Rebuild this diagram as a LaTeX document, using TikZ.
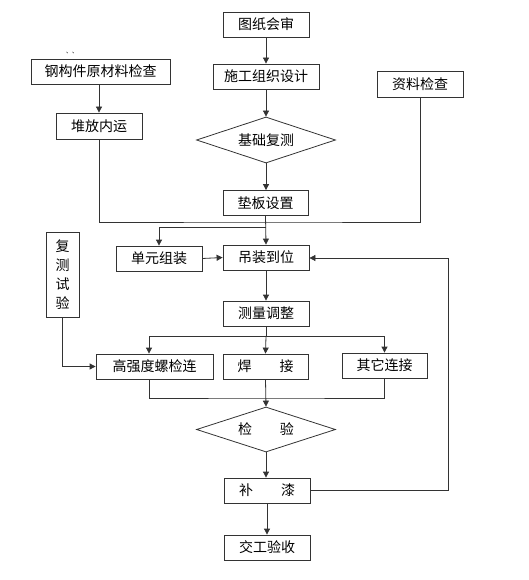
\documentclass[tikz,border=0pt]{standalone}
\usepackage{fontspec}
\setmainfont{Noto Sans CJK SC}
\usetikzlibrary{arrows.meta,shapes.geometric}
\begin{document}
\begin{tikzpicture}[x=1pt,y=-1pt,
  every node/.style={font=\fontsize{14}{16}\selectfont},
  box/.style={draw=black!80, line width=0.8pt, inner sep=0pt},
  dia/.style={draw=black!80, line width=0.8pt, diamond, inner sep=0pt},
  con/.style={draw=black!80, line width=0.8pt},
  arr/.style={con, -{Triangle[length=6pt,width=6pt]}}
]
\useasboundingbox (0,0) rectangle (529,580);
% nodes
\node[box, minimum width=86pt, minimum height=25pt] (tz) at (266,24.5) {图纸会审};
\node[box, minimum width=106pt, minimum height=25pt] (sg) at (266,76.5) {施工组织设计};
\node[box, minimum width=139pt, minimum height=25pt] (gj) at (100.5,71.5) {钢构件原材料检查};
\node[font=\fontsize{6}{6}\selectfont, inner sep=0pt] (mk) at (72,53) {、、};
\node[box, minimum width=86pt, minimum height=26pt] (zl) at (420,84) {资料检查};
\node[box, minimum width=86pt, minimum height=26pt] (df) at (99,126) {堆放内运};
\node[dia, minimum width=139pt, minimum height=46pt] (jc) at (266,140) {\makebox[0pt]{基础复测}};
\node[box, minimum width=85pt, minimum height=25pt] (db) at (265.5,203) {垫板设置};
\node[box, minimum width=86pt, minimum height=25pt] (dy) at (159,258.5) {单元组装};
\node[box, minimum width=86pt, minimum height=25pt] (dz) at (266,257.5) {吊装到位};
\node[box, minimum width=33pt, minimum height=85pt, align=center,
      font=\fontsize{14}{19}\selectfont] (fc) at (62.5,274.5) {复\\测\\试\\验};
\node[box, minimum width=86pt, minimum height=25pt] (cl) at (266,313.5) {测量调整};
\node[box, minimum width=117pt, minimum height=25pt] (gq) at (154.5,366.5) {高强度螺检连};
\node[box, minimum width=85pt, minimum height=25pt] (hj) at (265.5,366.5) {焊\hspace{28pt}接};
\node[box, minimum width=85pt, minimum height=25pt] (qt) at (384.5,365.5) {其它连接};
\node[dia, minimum width=139pt, minimum height=45pt] (jy) at (266,429.5) {\makebox[0pt]{检\hspace{28pt}验}};
\node[box, minimum width=86pt, minimum height=25pt] (bq) at (267,490.5) {补\hspace{28pt}漆};
\node[box, minimum width=86pt, minimum height=25pt] (jg) at (267,547.5) {交工验收};
% coordinates
\coordinate (j1) at (266,222);
\coordinate (j2) at (266,227);
\coordinate (j3) at (266,336);
\coordinate (j4) at (266,398);
\coordinate (r1) at (448,258);
% connectors
\draw[arr] (tz) -- (sg);
\draw[arr] (sg) -- (jc.north);
\draw[arr] (jc.south) -- (db.north -| jc.south);
\draw[arr] (gj.south -| df.north) -- (df.north);
\draw[con] (df.south) |- (j1) -| (zl.south);
\draw[arr] (db.south) -- (dz.north);
\draw[arr] (j2) -| (dy.north);
\draw[arr] (dy.east) -- (dz.west);
\draw[arr] (dz.south) -- (cl.north);
\draw[con] (cl.south) -- (j3);
\draw[arr] (j3) -| ([xshift=-5.5pt]gq.north);
\draw[arr] (j3) -- (hj.north);
\draw[arr] (j3) -| (qt.north);
\draw[arr] (fc.south) |- (gq.west);
\draw[con] ([xshift=-5.5pt]gq.south) |- (j4) -| (qt.south);
\draw[arr] (hj.south) -- (jy.north);
\draw[arr] (jy.south) -- (bq.north -| jy.south);
\draw[arr] (bq.east) -| (r1) -- (dz.east |- r1);
\draw[arr] (bq.south) -- (jg.north);
\end{tikzpicture}
\end{document}
